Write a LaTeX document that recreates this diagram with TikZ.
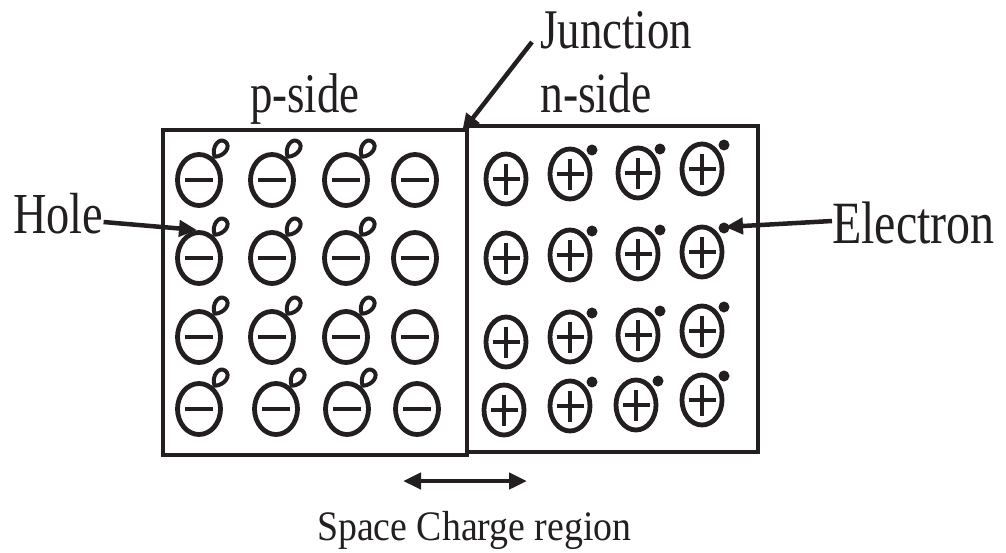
\documentclass[tikz,border=0pt]{standalone}
\usepackage{fontspec}
\usetikzlibrary{shapes.geometric,arrows.meta}
\newfontfamily\lblfont[FakeStretch=0.8]{Liberation Serif}
\newfontfamily\capfont[FakeStretch=0.9]{Liberation Serif}
\definecolor{ink}{HTML}{231F20}
\begin{document}
\begin{tikzpicture}[x=1pt,y=-1pt,
  box/.style={draw=ink, line width=4.5pt, rectangle, inner sep=0pt},
  ion/.style={ellipse, draw=ink, line width=4.8pt, inner sep=0pt},
  pion/.style={ion, minimum width=43pt, minimum height=51pt},
  nion/.style={ion, minimum width=40pt, minimum height=50pt},
  sign/.style={draw=ink, line width=4.8pt},
  holemark/.style={draw=ink, line width=4pt, line join=round},
  lbl/.style={text=ink, inner sep=0pt, anchor=base west},
  conn/.style={draw=ink, line width=4.5pt, -{Triangle[length=18pt,width=16pt]}},
  acceptor/.pic={
    \node[pion] (-ion) {};
    \draw[sign] (-14,0) -- (14,0);
  },
  acceptorhole/.pic={
    \node[pion] (-ion) {};
    \draw[sign] (-14,0) -- (14,0);
    % teardrop-shaped hole, its point towards the ion
    \draw[holemark, shift={(21,-31)}, rotate=-35]
      (0,9.5) .. controls (-8.5,3) and (-7.5,-9) .. (0,-9)
              .. controls (7.5,-9) and (8.5,3) .. (0,9.5) -- cycle;
  },
  donor/.pic={
    \node[nion] (-ion) {};
    \draw[sign] (-13.5,0) -- (13.5,0) (0,-15.5) -- (0,15.5);
  },
  donorel/.pic={
    \node[nion] (-ion) {};
    \draw[sign] (-13.5,0) -- (13.5,0) (0,-15.5) -- (0,15.5);
    \fill[ink] (22,-24) circle [radius=5.5pt];
  },
]
\useasboundingbox (0,0) rectangle (1006,552);

% p-type and n-type blocks sharing the junction edge
\node[box, minimum width=304pt, minimum height=325pt] (pbox) at (315,292.5) {};
\node[box, minimum width=291pt, minimum height=326pt] (nbox) at (612.5,289) {};

% p-side: acceptor ions, holes on the first three columns
\foreach \px/\py/\id in {199/180/11, 272/180/12, 346/180/13,
                         199/258/21, 272/258/22, 346/258/23,
                         199/337/31, 272/337/32, 346/337/33,
                         199/409/41, 276/409/42, 347/409/43}
  \pic (p\id) at (\px,\py) {acceptorhole};
\foreach \px/\py/\id in {415/180/14, 415/258/24, 415/337/34, 417/409/44}
  \pic (p\id) at (\px,\py) {acceptor};

% n-side: donor ions, free electrons on the last three columns
\foreach \px/\py/\id in {506/179/11, 506/258/21, 506/342/31, 504/410/41}
  \pic (n\id) at (\px,\py) {donor};
\foreach \px/\py/\id in {570/174/12, 638/173/13, 702/169/14,
                         570/255/22, 638/254/23, 702/252/24,
                         570/337/32, 638/335/33, 702/331/34,
                         570/406/42, 636/405/43, 702/400/44}
  \pic (n\id) at (\px,\py) {donorel};

% labels
\node[lbl, font=\lblfont\fontsize{56}{60}\selectfont] (junction) at (540,48) {Junction};
\node[lbl, font=\lblfont\fontsize{56}{60}\selectfont] (pside) at (250,112) {p-side};
\node[lbl, font=\lblfont\fontsize{57}{60}\selectfont] (nside) at (540,112) {n-side};
\node[lbl, font=\lblfont\fontsize{58}{60}\selectfont] (hole) at (13,233) {Hole};
\node[lbl, font=\lblfont\fontsize{60}{62}\selectfont] (electron) at (832,243) {Electron};
\node[lbl, font=\capfont\fontsize{42}{46}\selectfont] (scr) at (317,540) {Space Charge region};

% pointers
\coordinate (junctip) at (462,132);
\coordinate (holetip) at (197,230);
\coordinate (eltip) at (725,227);
\coordinate (scleft) at (403,481);
\coordinate (scright) at (527,481);

\draw[conn] ([xshift=-8pt,yshift=6pt]junction.base west) -- (junctip);
\draw[conn] ([yshift=11pt]hole.base east) -- (holetip);
\draw[conn] ([yshift=22pt]electron.base west) -- (eltip);
\draw[conn, {Triangle[length=18pt,width=16pt]}-{Triangle[length=18pt,width=16pt]}] (scleft) -- (scright);
\end{tikzpicture}
\end{document}
